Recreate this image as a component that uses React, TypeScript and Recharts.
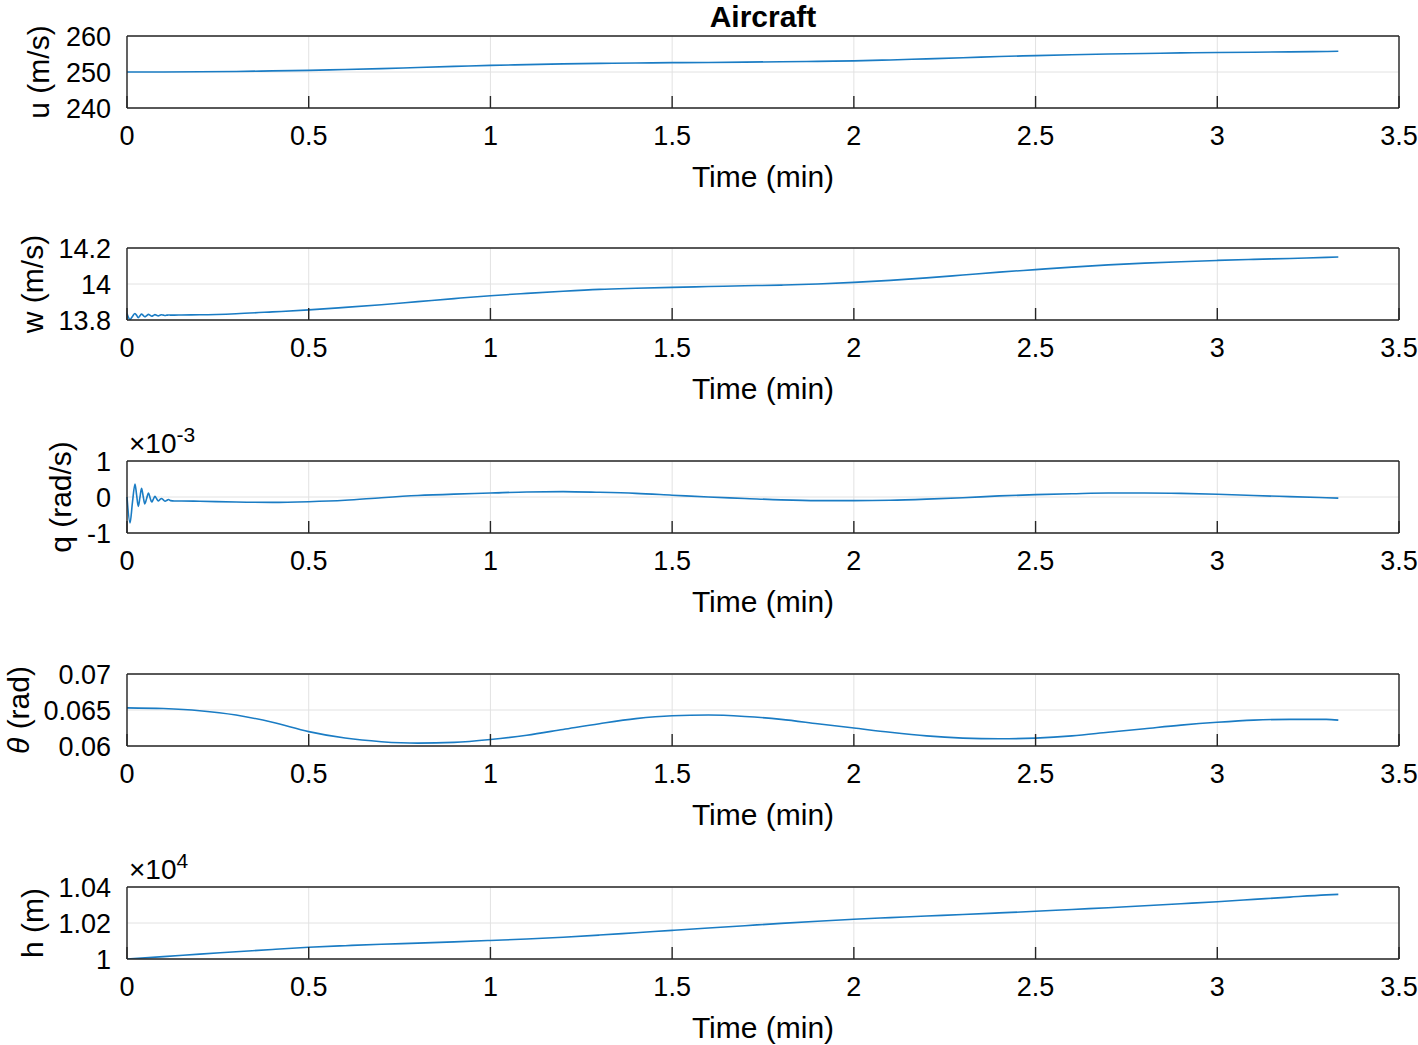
import { LineChart, Line, XAxis, YAxis, CartesianGrid } from 'recharts';

// time axis (min) shared by the slow states
const slowTime = [
  0, 0.1, 0.2, 0.3, 0.4, 0.5, 0.6, 0.7, 0.8, 0.9, 1.0, 1.1, 1.2, 1.3, 1.4, 1.5, 1.6, 1.7,
  1.8, 1.9, 2.0, 2.1, 2.2, 2.3, 2.4, 2.5, 2.6, 2.7, 2.8, 2.9, 3.0, 3.1, 3.2, 3.3, 3.333,
];

const uValues = [
  250.0, 250.0, 250.05, 250.15, 250.3, 250.45, 250.7, 250.95, 251.25, 251.55, 251.85, 252.05,
  252.25, 252.4, 252.5, 252.6, 252.65, 252.75, 252.85, 252.95, 253.1, 253.35, 253.65, 253.95,
  254.3, 254.55, 254.8, 255.0, 255.15, 255.3, 255.4, 255.5, 255.6, 255.7, 255.75,
];

const thetaValues = [
  0.0653, 0.0652, 0.0649, 0.0643, 0.0633, 0.062, 0.0611, 0.0606, 0.0604, 0.0605, 0.0609, 0.0615,
  0.0623, 0.0631, 0.0638, 0.0642, 0.0643, 0.0641, 0.0637, 0.0631, 0.0625, 0.0619, 0.0614, 0.0611,
  0.061, 0.0611, 0.0614, 0.0619, 0.0624, 0.0629, 0.0633, 0.0636, 0.0637, 0.0637, 0.0636,
];

const hValues = [
  10000, 10013, 10027, 10040, 10053, 10065, 10074, 10082, 10088, 10095, 10103, 10111, 10121,
  10133, 10146, 10159, 10172, 10185, 10198, 10210, 10221, 10230, 10239, 10247, 10256, 10265,
  10275, 10285, 10296, 10307, 10318, 10331, 10344, 10356, 10359,
];

// denser time grid for w and q, which ring during the first few seconds
const fastTime = [
  0, 0.0083, 0.015, 0.022, 0.0265, 0.031, 0.0355, 0.04, 0.0445, 0.049, 0.054, 0.059, 0.0635,
  0.068, 0.0725, 0.077, 0.0815, 0.086, 0.0905, 0.095, 0.1, 0.105, 0.11, 0.114, 0.12, 0.13, 0.15,
  0.2, 0.3, 0.4, 0.5, 0.6, 0.7, 0.8, 0.9, 1.0, 1.1, 1.2, 1.3, 1.4, 1.5, 1.6, 1.7, 1.8, 1.9, 2.0,
  2.1, 2.2, 2.3, 2.4, 2.5, 2.6, 2.7, 2.8, 2.9, 3.0, 3.1, 3.2, 3.3, 3.333,
];

const wValues = [
  13.836, 13.803, 13.82, 13.836, 13.826, 13.813, 13.823, 13.833, 13.826, 13.818, 13.824, 13.831,
  13.826, 13.821, 13.825, 13.83, 13.826, 13.823, 13.826, 13.829, 13.827, 13.825, 13.827, 13.828,
  13.827, 13.827, 13.828,
  13.829, 13.835, 13.845, 13.856, 13.87, 13.885, 13.902, 13.919, 13.935, 13.948, 13.96, 13.97,
  13.976, 13.981, 13.986, 13.99, 13.994, 14.0, 14.009, 14.02, 14.034, 14.05, 14.066, 14.08,
  14.094, 14.106, 14.116, 14.124, 14.131, 14.137, 14.142, 14.148, 14.15,
];

const qValues = [
  0, -0.72e-3, -0.15e-3, 0.36e-3, 0.05e-3, -0.26e-3, -0.02e-3, 0.24e-3, 0.02e-3, -0.19e-3,
  -0.04e-3, 0.11e-3, -0.02e-3, -0.14e-3, -0.06e-3, 0.02e-3, -0.05e-3, -0.11e-3, -0.07e-3,
  -0.04e-3, -0.08e-3, -0.12e-3, -0.09e-3, -0.07e-3, -0.1e-3, -0.11e-3, -0.11e-3,
  -0.12e-3, -0.14e-3, -0.15e-3, -0.13e-3, -0.09e-3, -0.02e-3, 0.04e-3, 0.08e-3, 0.11e-3,
  0.14e-3, 0.15e-3, 0.13e-3, 0.1e-3, 0.05e-3, 0.0, -0.04e-3, -0.08e-3, -0.1e-3, -0.1e-3,
  -0.09e-3, -0.06e-3, -0.02e-3, 0.03e-3, 0.065e-3, 0.09e-3, 0.11e-3, 0.11e-3, 0.1e-3,
  0.075e-3, 0.04e-3, 0.01e-3, -0.02e-3, -0.03e-3,
];

const timeTicks = [0, 0.5, 1, 1.5, 2, 2.5, 3, 3.5];

const slowData = slowTime.map((t, i) => ({ t, u: uValues[i], theta: thetaValues[i], h: hValues[i] }));
const fastData = fastTime.map((t, i) => ({ t, w: wValues[i], q: qValues[i] }));

const FONT = 'Helvetica, "Liberation Sans", Arial, sans-serif';
const AXIS = '#262626';
const LINE = '#1a7cc4';
const axisStroke = { stroke: AXIS, strokeWidth: 1.4 };
const TOP = 50; // space above each box for title / multiplier

type PanelProps = {
  top: number;
  data: any[];
  dataKey: string;
  domain: [number, number];
  ticks: number[];
  format?: (v: number) => string;
  yLabel: React.ReactNode;
  labelX: number;
  exponent?: string;
  title?: string;
};

function Panel({ top, data, dataKey, domain, ticks, format, yLabel, labelX, exponent, title }: PanelProps) {
  const yTitle = (props: any) => {
    const vb = props.viewBox || { y: TOP, height: 72 };
    const cy = vb.y + vb.height / 2;
    return (
      <text
        x={labelX}
        y={cy}
        transform={`rotate(-90 ${labelX} ${cy})`}
        textAnchor="middle"
        dominantBaseline="central"
        fontSize={30}
        fontFamily={FONT}
        fill="#000"
      >
        {yLabel}
      </text>
    );
  };

  // title and the x10^n multiplier sit just above the box
  const topText = (props: any) => {
    const vb = props.viewBox || { x: 127, y: TOP, width: 1272 };
    return (
      <g>
        {title && (
          <text
            x={vb.x + vb.width / 2}
            y={vb.y - 9}
            textAnchor="middle"
            fontSize={30}
            fontWeight="bold"
            fontFamily={FONT}
            fill="#000"
          >
            {title}
          </text>
        )}
        {exponent && (
          <text x={vb.x + 2} y={vb.y - 8} fontSize={28} fontFamily={FONT} fill="#000">
            ×10
            <tspan fontSize={21} dy={-11}>
              {exponent}
            </tspan>
          </text>
        )}
      </g>
    );
  };

  const tickStyle = { fill: '#000', fontSize: 27, fontFamily: FONT };

  return (
    <div style={{ position: 'absolute', left: 0, top: top - TOP }}>
      <LineChart width={1418} height={TOP + 72 + 86} data={data} margin={{ top: TOP, right: 19, left: 0, bottom: 0 }}>
        <CartesianGrid xAxisId="b" yAxisId="l" stroke="#e2e2e2" strokeWidth={1} />
        <XAxis
          xAxisId="b"
          dataKey="t"
          type="number"
          domain={[0, 3.5]}
          ticks={timeTicks}
          interval={0}
          height={86}
          tickSize={-12}
          tickMargin={30}
          tick={tickStyle}
          axisLine={axisStroke}
          tickLine={axisStroke}
          label={{
            value: 'Time (min)',
            position: 'insideBottom',
            offset: 7,
            fill: '#000',
            fontSize: 30,
            fontFamily: FONT,
          }}
        />
        <XAxis
          xAxisId="t"
          orientation="top"
          mirror
          dataKey="t"
          type="number"
          domain={[0, 3.5]}
          ticks={timeTicks}
          interval={0}
          height={20}
          tick={false}
          tickSize={12}
          axisLine={axisStroke}
          tickLine={axisStroke}
          label={topText}
        />
        <YAxis
          yAxisId="l"
          type="number"
          domain={domain}
          ticks={ticks}
          interval={0}
          allowDataOverflow
          width={127}
          tickSize={0}
          tickMargin={16}
          tick={tickStyle}
          tickFormatter={format}
          axisLine={axisStroke}
          tickLine={false}
          label={yTitle}
        />
        <YAxis
          yAxisId="lm"
          mirror
          type="number"
          domain={domain}
          ticks={ticks}
          interval={0}
          allowDataOverflow
          width={20}
          tick={false}
          tickSize={12}
          axisLine={false}
          tickLine={axisStroke}
        />
        <YAxis
          yAxisId="r"
          orientation="right"
          mirror
          type="number"
          domain={domain}
          ticks={ticks}
          interval={0}
          allowDataOverflow
          width={20}
          tick={false}
          tickSize={12}
          axisLine={axisStroke}
          tickLine={axisStroke}
        />
        <Line
          xAxisId="b"
          yAxisId="l"
          type="monotone"
          dataKey={dataKey}
          stroke={LINE}
          strokeWidth={1.6}
          dot={false}
          activeDot={false}
          isAnimationActive={false}
        />
      </LineChart>
    </div>
  );
}

export default function App() {
  return (
    <div
      style={{
        position: 'absolute',
        left: 0,
        top: 0,
        width: 1418,
        height: 1045,
        background: '#fff',
        overflow: 'hidden',
      }}
    >
      <Panel
        top={36}
        data={slowData}
        dataKey="u"
        domain={[240, 260]}
        ticks={[240, 250, 260]}
        yLabel="u (m/s)"
        labelX={38}
        title="Aircraft"
      />
      <Panel
        top={248}
        data={fastData}
        dataKey="w"
        domain={[13.8, 14.2]}
        ticks={[13.8, 14, 14.2]}
        yLabel="w (m/s)"
        labelX={32}
      />
      <Panel
        top={461}
        data={fastData}
        dataKey="q"
        domain={[-0.001, 0.001]}
        ticks={[-0.001, 0, 0.001]}
        format={(v) => String(Math.round(v * 1000))}
        yLabel="q (rad/s)"
        labelX={60}
        exponent="-3"
      />
      <Panel
        top={674}
        data={slowData}
        dataKey="theta"
        domain={[0.06, 0.07]}
        ticks={[0.06, 0.065, 0.07]}
        yLabel={
          <>
            <tspan fontStyle="italic">θ</tspan> (rad)
          </>
        }
        labelX={18}
      />
      <Panel
        top={887}
        data={slowData}
        dataKey="h"
        domain={[10000, 10400]}
        ticks={[10000, 10200, 10400]}
        format={(v) => String(v / 1e4)}
        yLabel="h (m)"
        labelX={32}
        exponent="4"
      />
    </div>
  );
}
